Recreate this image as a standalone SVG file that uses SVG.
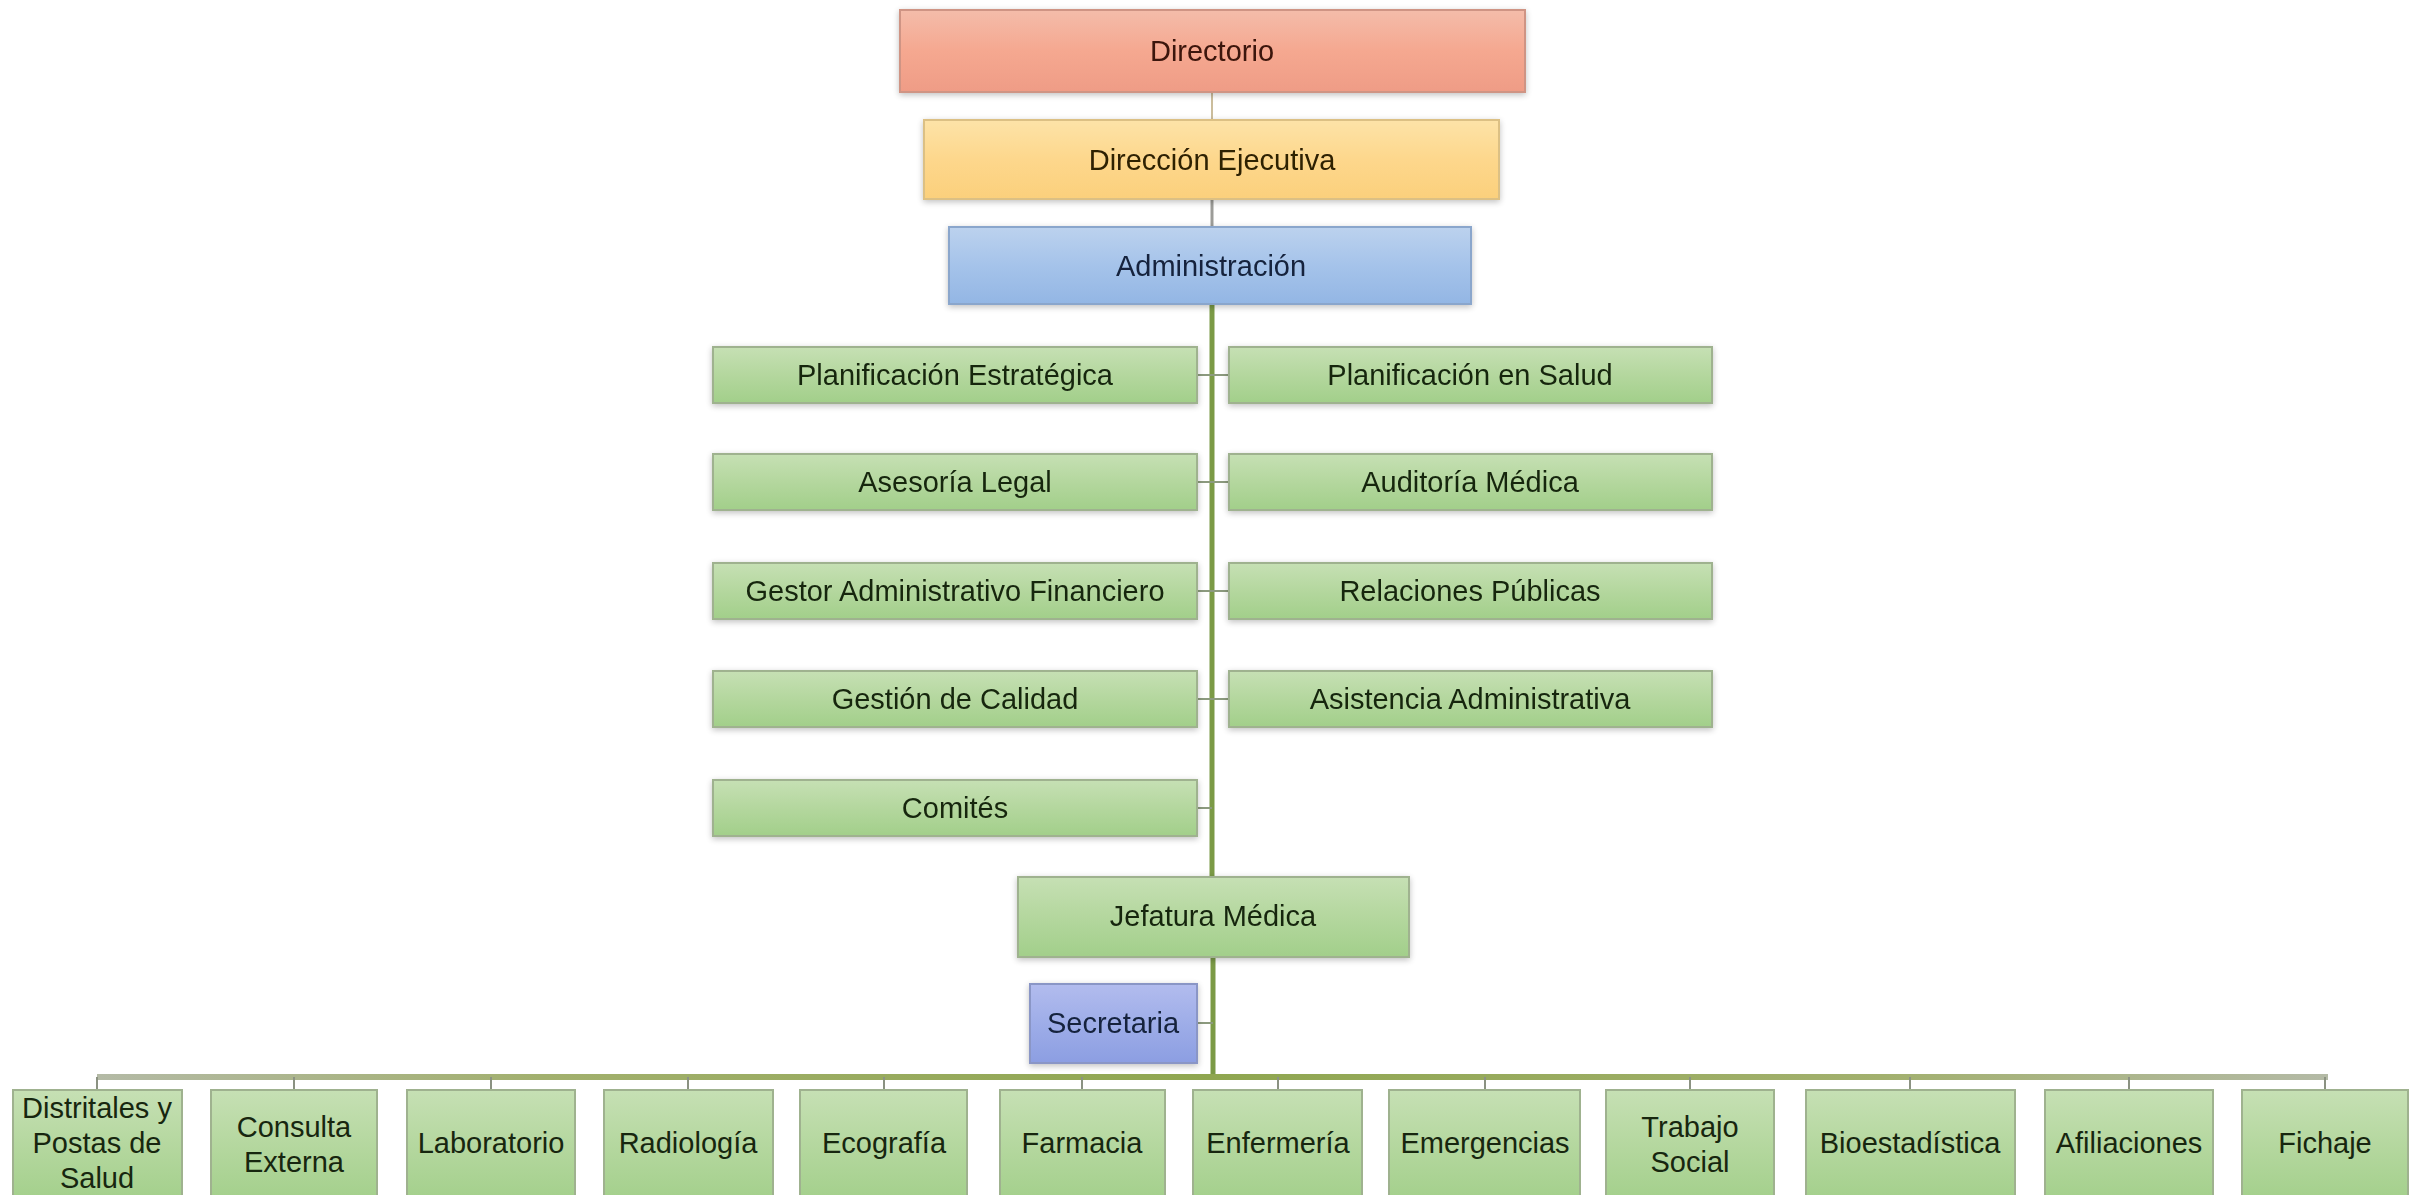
<svg xmlns="http://www.w3.org/2000/svg" width="2425" height="1195" viewBox="0 0 2425 1195">
<defs>
<linearGradient id="gRed" x1="0" y1="0" x2="0" y2="1"><stop offset="0" stop-color="#f4bcaa"/><stop offset="0.5" stop-color="#f5a890"/><stop offset="1" stop-color="#ef9c86"/></linearGradient>
<linearGradient id="gYel" x1="0" y1="0" x2="0" y2="1"><stop offset="0" stop-color="#fde3a8"/><stop offset="0.5" stop-color="#fdd78c"/><stop offset="1" stop-color="#fbd07c"/></linearGradient>
<linearGradient id="gBlu" x1="0" y1="0" x2="0" y2="1"><stop offset="0" stop-color="#bcd2ee"/><stop offset="0.5" stop-color="#a5c3ea"/><stop offset="1" stop-color="#93b6e4"/></linearGradient>
<linearGradient id="gGrn" x1="0" y1="0" x2="0" y2="1"><stop offset="0" stop-color="#c6e0b4"/><stop offset="0.5" stop-color="#b4d79e"/><stop offset="1" stop-color="#a2cf8a"/></linearGradient>
<linearGradient id="gPur" x1="0" y1="0" x2="0" y2="1"><stop offset="0" stop-color="#b2bcee"/><stop offset="0.5" stop-color="#9eade8"/><stop offset="1" stop-color="#8c9ee2"/></linearGradient>
<linearGradient id="gBus" x1="97" y1="0" x2="2328" y2="0" gradientUnits="userSpaceOnUse"><stop offset="0" stop-color="#b4baa6"/><stop offset="0.2" stop-color="#a2b06e"/><stop offset="0.5" stop-color="#8fa650"/><stop offset="0.8" stop-color="#a2b06e"/><stop offset="1" stop-color="#b4baa6"/></linearGradient>
<filter id="sh" x="-5%" y="-20%" width="110%" height="140%"><feGaussianBlur in="SourceAlpha" stdDeviation="3"/><feOffset dx="0" dy="2"/><feComponentTransfer><feFuncA type="linear" slope="0.25"/></feComponentTransfer><feMerge><feMergeNode/><feMergeNode in="SourceGraphic"/></feMerge></filter>
</defs>
<style>
text{font-family:"Liberation Sans",Arial,sans-serif;font-size:29px;text-anchor:middle}
.red{fill:url(#gRed);stroke:#cf9484;stroke-width:2}
.yel{fill:url(#gYel);stroke:#dcc084;stroke-width:2}
.blu{fill:url(#gBlu);stroke:#8aa6cc;stroke-width:2}
.grn{fill:url(#gGrn);stroke:#9fb28f;stroke-width:2}
.pur{fill:url(#gPur);stroke:#8a96c6;stroke-width:2}
.tr{fill:#3a1208}.ty{fill:#2e2006}.tb{fill:#14233c}.tg{fill:#17260f}
.main{stroke:#7b9a46;stroke-width:5;fill:none}
.stub{stroke:#8c9a7e;stroke-width:2;fill:none}
.tick{stroke:#8b9282;stroke-width:2;fill:none}
</style>
<rect width="2425" height="1195" fill="#ffffff"/>
<g id="connectors">
<line x1="1212" y1="92" x2="1212" y2="120" stroke="#cbbd9c" stroke-width="2"/>
<line x1="1212" y1="199" x2="1212" y2="227" stroke="#9c9c98" stroke-width="3"/>
<line class="main" x1="1212" y1="304" x2="1212" y2="877"/>
<line class="stub" x1="1197" y1="375" x2="1229" y2="375"/>
<line class="stub" x1="1197" y1="482" x2="1229" y2="482"/>
<line class="stub" x1="1197" y1="591" x2="1229" y2="591"/>
<line class="stub" x1="1197" y1="699" x2="1229" y2="699"/>
<line class="stub" x1="1197" y1="808" x2="1212" y2="808"/>
<line class="main" x1="1213" y1="957" x2="1213" y2="1077"/>
<line class="stub" x1="1197" y1="1023" x2="1213" y2="1023"/>
<line x1="97" y1="1077" x2="2328" y2="1077" stroke="url(#gBus)" stroke-width="6"/>
<g class="tick">
<line x1="97" y1="1077" x2="97" y2="1090"/>
<line x1="294" y1="1077" x2="294" y2="1090"/>
<line x1="491" y1="1077" x2="491" y2="1090"/>
<line x1="688" y1="1077" x2="688" y2="1090"/>
<line x1="884" y1="1077" x2="884" y2="1090"/>
<line x1="1082" y1="1077" x2="1082" y2="1090"/>
<line x1="1278" y1="1077" x2="1278" y2="1090"/>
<line x1="1485" y1="1077" x2="1485" y2="1090"/>
<line x1="1690" y1="1077" x2="1690" y2="1090"/>
<line x1="1910" y1="1077" x2="1910" y2="1090"/>
<line x1="2129" y1="1077" x2="2129" y2="1090"/>
<line x1="2325" y1="1077" x2="2325" y2="1090"/>
</g>
</g>
<g id="n-directorio" filter="url(#sh)"><rect class="red" x="900" y="10" width="625" height="82"/><text class="tr" x="1212" y="61">Directorio</text></g>
<g id="n-direccion" filter="url(#sh)"><rect class="yel" x="924" y="120" width="575" height="79"/><text class="ty" x="1212" y="170">Dirección Ejecutiva</text></g>
<g id="n-administracion" filter="url(#sh)"><rect class="blu" x="949" y="227" width="522" height="77"/><text class="tb" x="1211" y="276">Administración</text></g>

<g id="n-plan-estrategica" filter="url(#sh)"><rect class="grn" x="713" y="347" width="484" height="56"/><text class="tg" x="955" y="385">Planificación Estratégica</text></g>
<g id="n-plan-salud" filter="url(#sh)"><rect class="grn" x="1229" y="347" width="483" height="56"/><text class="tg" x="1470" y="385">Planificación en Salud</text></g>
<g id="n-asesoria" filter="url(#sh)"><rect class="grn" x="713" y="454" width="484" height="56"/><text class="tg" x="955" y="492">Asesoría Legal</text></g>
<g id="n-auditoria" filter="url(#sh)"><rect class="grn" x="1229" y="454" width="483" height="56"/><text class="tg" x="1470" y="492">Auditoría Médica</text></g>
<g id="n-gestor" filter="url(#sh)"><rect class="grn" x="713" y="563" width="484" height="56"/><text class="tg" x="955" y="601">Gestor Administrativo Financiero</text></g>
<g id="n-relaciones" filter="url(#sh)"><rect class="grn" x="1229" y="563" width="483" height="56"/><text class="tg" x="1470" y="601">Relaciones Públicas</text></g>
<g id="n-calidad" filter="url(#sh)"><rect class="grn" x="713" y="671" width="484" height="56"/><text class="tg" x="955" y="709">Gestión de Calidad</text></g>
<g id="n-asistencia" filter="url(#sh)"><rect class="grn" x="1229" y="671" width="483" height="56"/><text class="tg" x="1470" y="709">Asistencia Administrativa</text></g>
<g id="n-comites" filter="url(#sh)"><rect class="grn" x="713" y="780" width="484" height="56"/><text class="tg" x="955" y="818">Comités</text></g>

<g id="n-jefatura" filter="url(#sh)"><rect class="grn" x="1018" y="877" width="391" height="80"/><text class="tg" x="1213" y="926">Jefatura Médica</text></g>
<g id="n-secretaria" filter="url(#sh)"><rect class="pur" x="1030" y="984" width="167" height="79"/><text class="tb" x="1113" y="1033">Secretaria</text></g>

<g id="n-distritales"><rect class="grn" x="13" y="1090" width="169" height="115"/><text class="tg" x="97" y="1118">Distritales y</text><text class="tg" x="97" y="1153">Postas de</text><text class="tg" x="97" y="1188">Salud</text></g>
<g id="n-consulta"><rect class="grn" x="211" y="1090" width="166" height="115"/><text class="tg" x="294" y="1137">Consulta</text><text class="tg" x="294" y="1172">Externa</text></g>
<g id="n-laboratorio"><rect class="grn" x="407" y="1090" width="168" height="115"/><text class="tg" x="491" y="1153">Laboratorio</text></g>
<g id="n-radiologia"><rect class="grn" x="604" y="1090" width="169" height="115"/><text class="tg" x="688" y="1153">Radiología</text></g>
<g id="n-ecografia"><rect class="grn" x="800" y="1090" width="167" height="115"/><text class="tg" x="884" y="1153">Ecografía</text></g>
<g id="n-farmacia"><rect class="grn" x="1000" y="1090" width="165" height="115"/><text class="tg" x="1082" y="1153">Farmacia</text></g>
<g id="n-enfermeria"><rect class="grn" x="1193" y="1090" width="169" height="115"/><text class="tg" x="1278" y="1153">Enfermería</text></g>
<g id="n-emergencias"><rect class="grn" x="1389" y="1090" width="191" height="115"/><text class="tg" x="1485" y="1153">Emergencias</text></g>
<g id="n-trabajo"><rect class="grn" x="1606" y="1090" width="168" height="115"/><text class="tg" x="1690" y="1137">Trabajo</text><text class="tg" x="1690" y="1172">Social</text></g>
<g id="n-bioestadistica"><rect class="grn" x="1806" y="1090" width="209" height="115"/><text class="tg" x="1910" y="1153">Bioestadística</text></g>
<g id="n-afiliaciones"><rect class="grn" x="2045" y="1090" width="168" height="115"/><text class="tg" x="2129" y="1153">Afiliaciones</text></g>
<g id="n-fichaje"><rect class="grn" x="2242" y="1090" width="166" height="115"/><text class="tg" x="2325" y="1153">Fichaje</text></g>
</svg>
